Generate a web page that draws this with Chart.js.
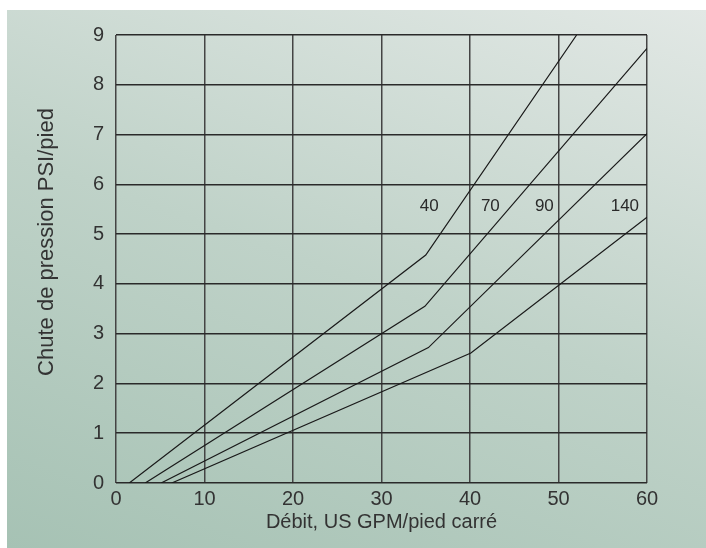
<!DOCTYPE html>
<html><head><meta charset="utf-8">
<script src="https://cdn.jsdelivr.net/npm/chart.js@4/dist/chart.umd.min.js"></script>
<style>
html,body{margin:0;padding:0;background:#fff;}
#wrap{position:absolute;left:7px;top:10px;width:699px;height:538px;background:linear-gradient(200deg,#e2e8e5 0%,#bfd2c8 50%,#a6c2b4 100%);}
canvas{display:block;}
</style></head><body>
<div id="wrap"><canvas id="c" width="699" height="538"></canvas></div>
<script>
// ---- data ----
const xTickValues = [0, 10, 20, 30, 40, 50, 60];
const yTickValues = [0, 1, 2, 3, 4, 5, 6, 7, 8, 9];
const curveNames = ['40', '70', '90', '140'];
const flow40 = [1.5, 35.0, 52.05];
const drop40 = [0, 4.58, 9.0];
const flow70 = [3.3, 34.9, 60];
const drop70 = [0, 3.55, 8.73];
const flow90 = [5.1, 35.3, 60];
const drop90 = [0, 2.72, 7.02];
const flow140 = [6.3, 40.1, 60];
const drop140 = [0, 2.61, 5.34];
const labelFlow = [35.4, 42.3, 48.4, 57.5];
const labelDrop = [5.55, 5.55, 5.55, 5.55];
const xTitle = 'Débit, US GPM/pied carré';
const yTitle = 'Chute de pression PSI/pied';

const FONT = '"Liberation Sans", Arial, Helvetica, sans-serif';
const flows = [flow40, flow70, flow90, flow140];
const drops = [drop40, drop70, drop90, drop140];

const datasets = curveNames.map((n, i) => ({
  label: n,
  data: flows[i].map((x, j) => ({x: x, y: drops[i][j]})),
  showLine: true,
  borderColor: '#1a1a1a',
  borderWidth: 1.2,
  pointRadius: 0,
  fill: false,
  tension: 0
}));

const textPlugin = {
  id: 'texts',
  afterDraw(chart) {
    const ctx = chart.ctx;
    const xs = chart.scales.x, ys = chart.scales.y;
    const ca = chart.chartArea;
    ctx.save();
    ctx.fillStyle = '#2a2a2a';
    ctx.textAlign = 'center';
    ctx.textBaseline = 'middle';
    ctx.font = '17px ' + FONT;
    curveNames.forEach((n, i) => {
      ctx.fillText(n, xs.getPixelForValue(labelFlow[i]), ys.getPixelForValue(labelDrop[i]));
    });
    ctx.fillStyle = '#333';
    ctx.font = '20px ' + FONT;
    ctx.fillText(xTitle, (ca.left + ca.right) / 2, ca.bottom + 39);
    ctx.font = '22px ' + FONT;
    ctx.translate(40, ca.top + 207);
    ctx.rotate(-Math.PI / 2);
    ctx.fillText(yTitle, 0, 0);
    ctx.restore();
  }
};

new Chart(document.getElementById('c'), {
  type: 'scatter',
  data: { datasets: datasets },
  options: {
    responsive: false,
    animation: false,
    devicePixelRatio: 1,
    layout: { padding: { top: 25, right: 59, left: 0, bottom: 0 } },
    plugins: { legend: { display: false }, tooltip: { enabled: false } },
    scales: {
      x: {
        type: 'linear', min: 0, max: 60,
        afterBuildTicks: s => { s.ticks = xTickValues.map(v => ({value: v})); },
        afterFit: s => { s.height = 65; },
        ticks: { color: '#333', font: { size: 20, family: FONT }, padding: 4 },
        grid: { color: '#444', lineWidth: 1.5, drawTicks: false },
        border: { display: false }
      },
      y: {
        type: 'linear', min: 0, max: 9,
        afterBuildTicks: s => { s.ticks = yTickValues.map(v => ({value: v})); },
        afterFit: s => { s.width = 109; },
        ticks: { color: '#333', font: { size: 20, family: FONT }, padding: 12 },
        grid: { color: '#2a2a2a', lineWidth: 1.5, drawTicks: false },
        border: { display: false }
      }
    }
  },
  plugins: [textPlugin]
});
</script>
</body></html>
